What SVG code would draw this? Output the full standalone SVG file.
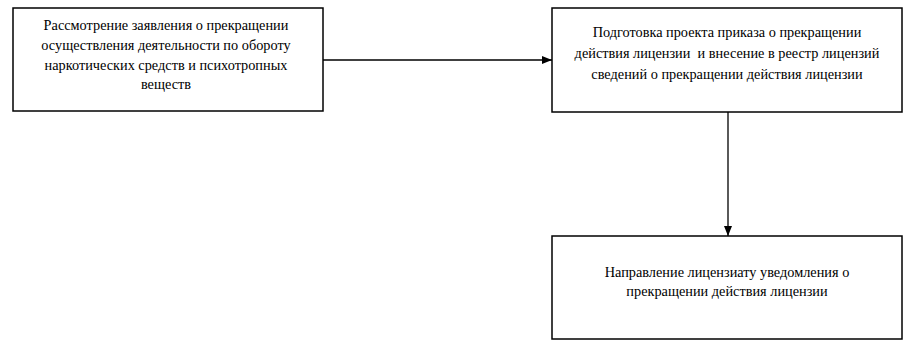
<svg xmlns="http://www.w3.org/2000/svg" width="911" height="349" viewBox="0 0 911 349">
<defs>
<marker id="arr" markerWidth="10" markerHeight="8" refX="10" refY="4" orient="auto" markerUnits="userSpaceOnUse">
<path d="M0,0 L10,4 L0,8 Z" fill="#000"/>
</marker>
<style>
.box{fill:#fff;stroke:#000;stroke-width:1.5}
.t{font-family:"Liberation Serif","Times New Roman",serif;font-size:14.3px;fill:#000;text-anchor:middle;white-space:pre}
.c{stroke:#000;stroke-width:1.3;fill:none}
</style>
</defs>
<rect width="911" height="349" fill="#fff"/>
<g id="connectors">
<line class="c" x1="323" y1="60" x2="552" y2="60" marker-end="url(#arr)"/>
<line class="c" x1="728" y1="112" x2="728" y2="236" marker-end="url(#arr)"/>
</g>
<g id="node1">
<rect class="box" x="13" y="8" width="310" height="103"/>
<text class="t" x="166" y="30">Рассмотрение заявления о прекращении</text>
<text class="t" x="166" y="50">осуществления деятельности по обороту</text>
<text class="t" x="166" y="70">наркотических средств и психотропных</text>
<text class="t" x="166" y="89">веществ</text>
</g>
<g id="node2">
<rect class="box" x="552" y="8" width="350" height="104"/>
<text class="t" x="727" y="37">Подготовка проекта приказа о прекращении</text>
<text class="t" x="727" y="58" xml:space="preserve">действия лицензии  и внесение в реестр лицензий</text>
<text class="t" x="727" y="79">сведений о прекращении действия лицензии</text>
</g>
<g id="node3">
<rect class="box" x="552" y="236" width="350" height="103"/>
<text class="t" x="727" y="277">Направление лицензиату уведомления о</text>
<text class="t" x="727" y="296">прекращении действия лицензии</text>
</g>
</svg>
